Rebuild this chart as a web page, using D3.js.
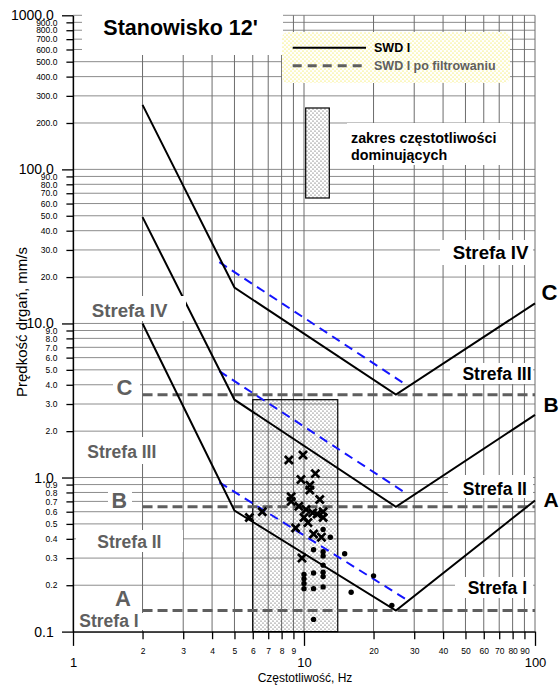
<!DOCTYPE html>
<html>
<head>
<meta charset="utf-8">
<script src="https://cdn.jsdelivr.net/npm/d3@7"></script>
<style>
  body { margin: 0; background: #fff; }
  svg { display: block; font-family: "Liberation Sans", Arial, sans-serif; }
</style>
</head>
<body>
<svg id="chart" width="559" height="686"></svg>
<script>
// SWD I limit curves (frequency in Hz, velocity in mm/s)
const curveFreq = [2, 5, 25, 100];
const limitC = [262, 17.1, 3.45, 13.5];
const limitB = [49, 3.2, 0.645, 2.55];
const limitA = [10, 0.61, 0.137, 0.71];

// SWD I after filtering (blue dashed)
const filteredFreq = [4.3, 28];
const filteredC = [25, 3.95];
const filteredB = [4.9, 0.78];
const filteredA = [0.93, 0.16];

// horizontal levels A, B, C
const levelFreq = [2, 100];
const levelVel = [3.45, 0.645, 0.137];
const levelNames = ["C", "B", "A"];

// range of dominant frequencies
const bandFreq = [6, 14];
const bandVel = [0.1, 3.2];

// measurements
const crossFreq = [5.8, 6.6, 8.6, 9.9, 11.2, 9.7, 10.6, 10.6, 8.8, 8.8, 11.7, 9.5, 10.2, 10.9, 11.4, 12.1, 10.0, 10.4, 12.1, 9.2, 11.0, 11.9, 9.8];
const crossVel = [0.55, 0.60, 1.3, 1.4, 1.06, 0.97, 0.89, 0.83, 0.75, 0.70, 0.72, 0.65, 0.62, 0.59, 0.58, 0.60, 0.55, 0.51, 0.55, 0.47, 0.43, 0.41, 0.30];
const dotFreq = [12.1, 13.0, 11.0, 12.1, 12.1, 12.1, 12.1, 12.1, 12.1, 11.0, 11.0, 10.0, 10.0, 10.0, 10.0, 11.0, 15.0, 20.0, 16.0, 24.0];
const dotVel = [0.46, 0.41, 0.34, 0.33, 0.31, 0.27, 0.243, 0.228, 0.195, 0.24, 0.19, 0.235, 0.22, 0.205, 0.19, 0.12, 0.32, 0.23, 0.18, 0.148];

// ticks
const xMajor = [1, 10, 100];
const xMinor = [2, 3, 4, 5, 6, 7, 8, 9, 20, 30, 40, 50, 60, 70, 80, 90];
const yMajor = [0.1, 1, 10, 100, 1000];
const yMinor = yMajor.slice(0, -1).flatMap(d => d3.range(2, 10).map(k => +(k * d).toFixed(1)));

const font = "Liberation Sans, Arial, sans-serif";
const gray = "#5f5f5f";

const svg = d3.select("#chart");
const x = d3.scaleLog().domain([1, 100]).range([73, 535]);
const y = d3.scaleLog().domain([0.1, 1000]).range([631.6, 15.3]);

const defs = svg.append("defs");
const stipple = defs.append("pattern").attr("id", "stipple")
  .attr("width", 4).attr("height", 4).attr("patternUnits", "userSpaceOnUse");
stipple.append("circle").attr("cx", 1).attr("cy", 1).attr("r", 0.6).attr("fill", "#333");
stipple.append("circle").attr("cx", 3).attr("cy", 3).attr("r", 0.6).attr("fill", "#333");

const yellow = defs.append("pattern").attr("id", "yellowdots")
  .attr("width", 4).attr("height", 4).attr("patternUnits", "userSpaceOnUse");
yellow.append("rect").attr("width", 4).attr("height", 4).attr("fill", "#fff");
yellow.append("circle").attr("cx", 1).attr("cy", 1).attr("r", 0.55).attr("fill", "#f2e200");
yellow.append("circle").attr("cx", 3).attr("cy", 3).attr("r", 0.55).attr("fill", "#f2e200");

// Grid
const grid = svg.append("g").attr("stroke", "#8c8c8c").attr("stroke-width", 1);
grid.selectAll(".gh").data(yMajor.concat(yMinor)).join("line")
  .attr("x1", x(1)).attr("x2", x(100))
  .attr("y1", d => y(d)).attr("y2", d => y(d));
grid.selectAll(".gv").data(xMajor.concat(xMinor)).join("line")
  .attr("y1", y(0.1)).attr("y2", y(1000))
  .attr("x1", d => x(d)).attr("x2", d => x(d))
  .attr("stroke", "#6c6c6c");

// Dominant frequency band
svg.append("rect")
  .attr("x", x(bandFreq[0])).attr("width", x(bandFreq[1]) - x(bandFreq[0]))
  .attr("y", y(bandVel[1])).attr("height", y(bandVel[0]) - y(bandVel[1]))
  .attr("fill", "url(#stipple)").attr("stroke", "#000").attr("stroke-width", 1.2);

// Level lines A, B, C
svg.selectAll(".level").data(levelVel).join("line")
  .attr("x1", x(levelFreq[0])).attr("x2", x(levelFreq[1]))
  .attr("y1", d => y(d)).attr("y2", d => y(d))
  .attr("stroke", gray).attr("stroke-width", 3).attr("stroke-dasharray", "10,5");

const line = d3.line().x(d => x(d[0])).y(d => y(d[1]));

// Filtered curves
[filteredC, filteredB, filteredA].forEach(vals => {
  svg.append("path").datum(d3.zip(filteredFreq, vals)).attr("d", line)
    .attr("fill", "none").attr("stroke", "#1414ff").attr("stroke-width", 2)
    .attr("stroke-dasharray", "9,6");
});

// SWD I curves
[limitC, limitB, limitA].forEach(vals => {
  svg.append("path").datum(d3.zip(curveFreq, vals)).attr("d", line)
    .attr("fill", "none").attr("stroke", "#000").attr("stroke-width", 2);
});

// white boxes behind labels
const boxes = [
  [85, 296, 101, 25], [80, 437, 90, 27], [76, 530, 107, 22], [76, 613, 68, 17],
  [113, 375, 27, 23], [108, 489, 24, 20], [112, 587, 24, 21],
  [440, 240, 93, 25], [450, 363, 83, 21], [448, 475, 85, 23], [455, 577, 78, 21],
  [82, 0, 201, 55], [347, 123, 163, 42]
];
svg.selectAll(".box").data(boxes).join("rect")
  .attr("x", d => d[0]).attr("y", d => d[1]).attr("width", d => d[2]).attr("height", d => d[3])
  .attr("fill", "#fff");

function label(txt, px, py, size, color, anchor) {
  svg.append("text").attr("x", px).attr("y", py)
    .attr("font-size", size).attr("font-weight", "bold")
    .attr("fill", color).attr("text-anchor", anchor || "start").text(txt);
}

// zone labels, left (grey)
label("Strefa IV", 91.7, 317, 18.7, gray);
label("Strefa III", 87.3, 458.3, 17.5, gray);
label("Strefa II", 97.3, 548.3, 17.5, gray);
label("Strefa I", 79.3, 626.7, 17.5, gray);
label(levelNames[0], 116.5, 395, 22, gray);
label(levelNames[1], 111.5, 508, 21.5, gray);
label(levelNames[2], 115, 606, 22, gray);

// zone labels, right (black)
label("Strefa IV", 528.5, 259.3, 18.7, "#000", "end");
label("Strefa III", 531.5, 380, 17.5, "#000", "end");
label("Strefa II", 527, 495, 17.5, "#000", "end");
label("Strefa I", 527, 594, 17.5, "#000", "end");
label("C", 541.5, 300, 22, "#000");
label("B", 543.5, 411.5, 21, "#000");
label("A", 543.5, 506.5, 21, "#000");

// Scatter
const timesType = d3.symbolTimes || {
  draw(ctx, size) {
    const r = Math.sqrt(size - Math.min(size / 6, 1.7)) * 0.6189;
    ctx.moveTo(-r, -r); ctx.lineTo(r, r); ctx.moveTo(-r, r); ctx.lineTo(r, -r);
  }
};
svg.selectAll(".dot").data(d3.zip(dotFreq, dotVel)).join("circle")
  .attr("cx", d => x(d[0])).attr("cy", d => y(d[1])).attr("r", 2.7).attr("fill", "#000");
svg.selectAll(".cross").data(d3.zip(crossFreq, crossVel)).join("path")
  .attr("transform", d => `translate(${x(d[0])},${y(d[1])})`)
  .attr("d", d3.symbol().type(timesType).size(44))
  .attr("fill", "none").attr("stroke", "#000").attr("stroke-width", 2.7);

// Axes
function styleAxis(g, size) {
  g.attr("font-family", font).attr("font-size", size);
  g.selectAll("line").attr("stroke-width", 1.3);
  g.select(".domain").attr("stroke-width", 1.3);
}
svg.append("g").attr("transform", `translate(${x(1)},0)`)
  .call(d3.axisLeft(y).tickValues(yMinor).tickSize(6.6).tickPadding(9).tickSizeOuter(0)
    .tickFormat(d => d.toFixed(1)))
  .call(g => g.select(".domain").remove())
  .call(g => styleAxis(g, 8.5));
svg.append("g").attr("transform", `translate(${x(1)},0)`)
  .call(d3.axisLeft(y).tickValues(yMajor).tickSize(11).tickPadding(8.3).tickSizeOuter(0)
    .tickFormat(d => d.toFixed(1)))
  .call(g => styleAxis(g, 14));
svg.append("g").attr("transform", `translate(0,${y(0.1)})`)
  .call(d3.axisBottom(x).tickValues(xMinor).tickSize(7.6).tickPadding(9).tickSizeOuter(0)
    .tickFormat(d3.format("d")))
  .call(g => g.select(".domain").remove())
  .call(g => styleAxis(g, 8.5));
svg.append("g").attr("transform", `translate(0,${y(0.1)})`)
  .call(d3.axisBottom(x).tickValues(xMajor).tickSize(14.3).tickPadding(12).tickSizeOuter(0)
    .tickFormat(d3.format("d")))
  .call(g => styleAxis(g, 13));

// Axis titles
svg.append("text").attr("transform", "translate(26.5,322) rotate(-90)")
  .attr("text-anchor", "middle").attr("font-size", 15).text("Prędkość drgań, mm/s");
svg.append("text").attr("x", 305).attr("y", 681.5)
  .attr("text-anchor", "middle").attr("font-size", 12).text("Częstotliwość, Hz");

// Title
svg.append("text").attr("x", 103.3).attr("y", 35)
  .attr("font-size", 21.5).attr("font-weight", "bold").text("Stanowisko 12'");

// Legend
svg.append("rect").attr("x", 282).attr("y", 32).attr("width", 228).attr("height", 51)
  .attr("rx", 6).attr("fill", "url(#yellowdots)");
svg.append("line").attr("x1", 292.7).attr("x2", 366).attr("y1", 47.7).attr("y2", 47.7)
  .attr("stroke", "#000").attr("stroke-width", 2);
label("SWD I", 374, 52.3, 12.5, "#000");
svg.append("line").attr("x1", 292.7).attr("x2", 366).attr("y1", 65.7).attr("y2", 65.7)
  .attr("stroke", gray).attr("stroke-width", 3).attr("stroke-dasharray", "9,6");
label("SWD I po filtrowaniu", 374, 70, 12.5, gray);

svg.append("rect").attr("x", 305.7).attr("y", 108).attr("width", 23.6).attr("height", 90)
  .attr("fill", "#fff");
svg.append("rect").attr("x", 305.7).attr("y", 108).attr("width", 23.6).attr("height", 90)
  .attr("fill", "url(#stipple)").attr("stroke", "#000").attr("stroke-width", 1.2);
label("zakres częstotliwości", 351, 142.7, 14.3, "#000");
label("dominujących", 351, 159.5, 14.3, "#000");
</script>
</body>
</html>
